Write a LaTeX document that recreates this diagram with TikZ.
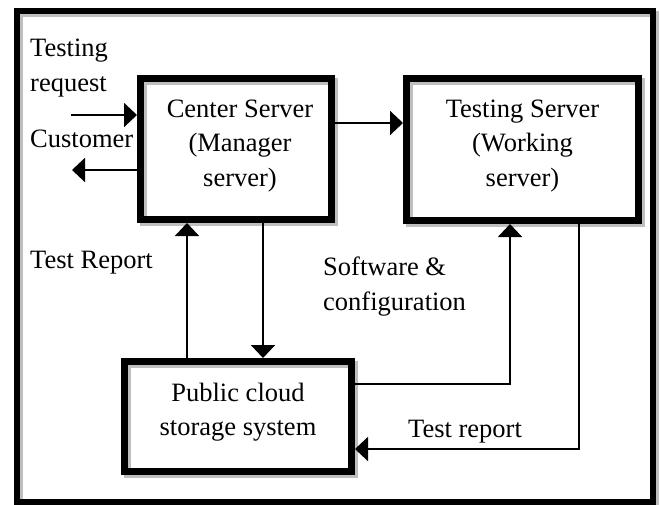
\documentclass[tikz,border=0pt]{standalone}
\usepackage{fontspec}
\setmainfont{Liberation Serif}
\usetikzlibrary{arrows.meta,shadows}
\begin{document}
\begin{tikzpicture}[x=1pt,y=-1pt,
  box/.style={draw, line width=7pt, inner sep=0pt,
    general shadow={shadow xshift=3pt, shadow yshift=-3pt, draw=black!25, line width=7pt}},
  lbl/.style={inner sep=0pt, font=\fontsize{26.5}{34.5}\selectfont},
  conn/.style={line width=2pt, -{Triangle[length=13pt,width=24pt]}}]
\useasboundingbox (0,0) rectangle (660,504);
% outer frame
\draw[black!25, line width=6pt] (20,14) rectangle (655.5,505);
\draw[line width=6pt] (17,11) rectangle (652.5,502);
% boxes
\node[box, minimum width=191pt, minimum height=141pt] (cs) at (236,149) {};
\node[box, minimum width=232pt, minimum height=142pt] (ts) at (522.5,149.5) {};
\node[box, minimum width=227pt, minimum height=110pt] (pc) at (238,416.5) {};
% box texts (anchor base = baseline of the last line)
\node[lbl, anchor=base, align=center] (cst) at (240,186) {Center Server\\(Manager\\server)};
\node[lbl, anchor=base, align=center] (tst) at (522.5,186) {Testing Server\\(Working\\server)};
\node[lbl, anchor=base, align=center] (pct) at (238,435.5) {Public cloud\\storage system};
% labels
\node[lbl, anchor=base west, align=left] (req) at (30,91) {Testing\\request};
\node[lbl, anchor=base west] (cust) at (30,147) {Customer};
\node[lbl, anchor=base west] (trep) at (30,268) {Test Report};
\node[lbl, anchor=base west, align=left] (soft) at (323,310) {Software \&\\configuration};
\node[lbl, anchor=base west] (trep2) at (408,437) {Test report};
% helper coordinates
\coordinate (reqstart) at (71,115);
\coordinate (custend) at (72,170);
\coordinate (ya) at (0,123);
\coordinate (xu) at (187,0);
\coordinate (xd) at (263,0);
\coordinate (yb) at (0,384);
\coordinate (xb) at (510,0);
\coordinate (xc) at (578.5,0);
\coordinate (yc) at (0,449);
% connectors
\draw[conn] (reqstart) -- (reqstart -| cs.west);
\draw[conn] (custend -| cs.west) -- (custend);
\draw[conn] (cs.east |- ya) -- (ts.west |- ya);
\draw[conn] (pc.north -| xu) -- (cs.south -| xu);
\draw[conn] (cs.south -| xd) -- (pc.north -| xd);
\draw[conn] (pc.east |- yb) -| (ts.south -| xb);
\draw[conn] (ts.south -| xc) |- (pc.east |- yc);
\end{tikzpicture}
\end{document}
